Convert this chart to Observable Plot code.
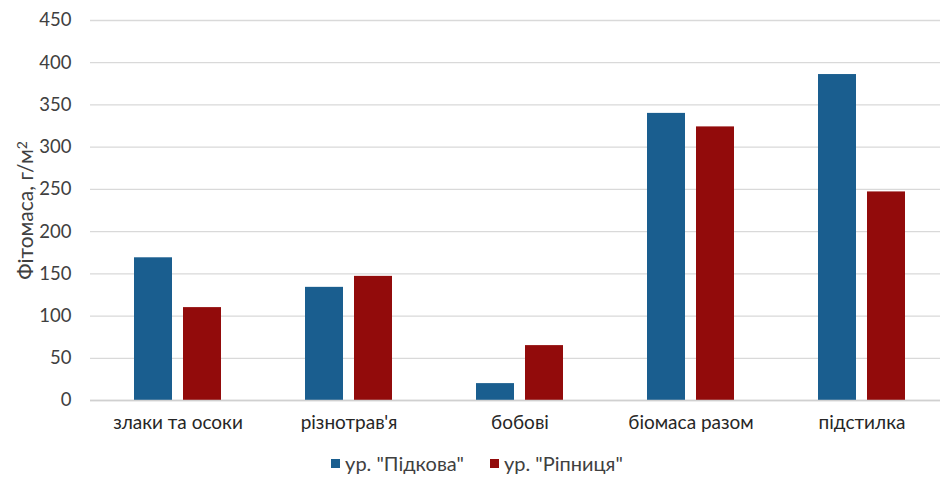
<!DOCTYPE html>
<html>
<head>
<meta charset="utf-8">
<script src="https://cdn.jsdelivr.net/npm/d3@7"></script>
<script src="https://cdn.jsdelivr.net/npm/@observablehq/plot@0.6"></script>
<style>
  html, body { margin: 0; padding: 0; background: #fff; }
  body { width: 940px; font-family: Lato, "Open Sans", sans-serif; color: #404040; }
  #legend { display: flex; justify-content: center; gap: 26px; font-size: 20px; margin-top: 5px; padding-left: 14px; }
  #legend .item { display: flex; align-items: center; gap: 5px; }
  #legend .sw { width: 9px; height: 9px; display: inline-block; }
</style>
</head>
<body>
<div id="chart"></div>
<div id="legend"></div>
<script>
const categories = ["злаки та осоки", "різнотрав'я", "бобові", "біомаса разом", "підстилка"];
const series = ["ур. \"Підкова\"", "ур. \"Ріпниця\""];
const pidkova = [169, 134, 20, 340, 386];
const ripnytsia = [110, 147, 65, 324, 247];
const yTicks = [0, 50, 100, 150, 200, 250, 300, 350, 400, 450];
const yLabel = "Фітомаса, г/м²";
const colors = ["#1a5e8f", "#920b0b"];

const data = [];
categories.forEach((c, i) => {
  data.push({category: c, series: series[0], value: pidkova[i]});
  data.push({category: c, series: series[1], value: ripnytsia[i]});
});

const chart = Plot.plot({
  width: 940,
  height: 446,
  marginTop: 20,
  marginBottom: 46,
  marginLeft: 90,
  marginRight: 0,
  style: {fontFamily: "Lato, 'Open Sans', sans-serif", fontSize: "18px", color: "#404040", background: "#fff"},
  x: {domain: categories, range: [90, 949], padding: 0, label: null},
  y: {domain: [0, 450], ticks: yTicks, label: yLabel},
  color: {domain: series, range: colors},
  marks: [
    Plot.gridY(yTicks, {stroke: "#d9d9d9", strokeOpacity: 1, strokeWidth: 1.3}),
    Plot.axisY({ticks: yTicks, tickSize: 0, tickPadding: 19, fontSize: 18.5, label: yLabel, labelAnchor: "center", labelArrow: "none", labelOffset: 72, fill: "#404040"}),
    Plot.axisX({tickSize: 0, tickPadding: 15, fontSize: 19, label: null, fill: "#262626"}),
    Plot.barY(data.filter(d => d.series === series[0]), {x: "category", y: "value", fill: "series", dx: -24.5, insetLeft: 66.5, insetRight: 66.5}),
    Plot.barY(data.filter(d => d.series === series[1]), {x: "category", y: "value", fill: "series", dx: 24.5, insetLeft: 66.5, insetRight: 66.5}),
    Plot.ruleY([0], {stroke: "#d0d0d0", strokeWidth: 1.3})
  ]
});
document.getElementById("chart").appendChild(chart);

// enlarge the y label and render the exponent as a real superscript
d3.select(chart).selectAll("text").each(function() {
  if (this.textContent === yLabel) {
    const t = d3.select(this);
    t.attr("font-size", 21);
    t.text(yLabel.replace("²", ""));
    t.append("tspan").attr("dy", "-0.45em").attr("font-size", 14).text("2");
  }
});

const legend = document.getElementById("legend");
series.forEach((s, i) => {
  const item = document.createElement("span");
  item.className = "item";
  const sw = document.createElement("span");
  sw.className = "sw";
  sw.style.background = colors[i];
  item.appendChild(sw);
  item.appendChild(document.createTextNode(s));
  legend.appendChild(item);
});
</script>
</body>
</html>
